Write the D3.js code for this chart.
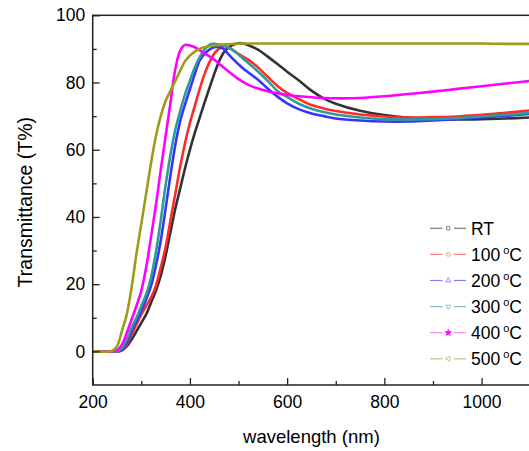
<!DOCTYPE html>
<html><head><meta charset="utf-8">
<script src="https://cdn.jsdelivr.net/npm/d3@7"></script>
<style>
body{margin:0;background:#fff}
svg{display:block}
text{font-family:"Liberation Sans",Arial,Helvetica,sans-serif;fill:#000}
</style>
</head><body>
<svg id="chart" width="529" height="451"></svg>
<script>
// ---------------- data ----------------
const wavelengths = [200,240,250,260,270,280,290,300,310,320,330,340,350,360,370,380,390,400,410,420,430,440,450,460,470,480,490,500,510,520,540,560,580,600,625,650,675,700,750,800,850,900,950,1000,1050,1100];
const seriesLabels = ["RT","100","200","300","400","500"];
const tRT   = [0,0,0,0.3,1.5,3.5,6,8.5,11,14.5,18,22.5,28.5,35.5,42.5,48.5,54.5,60,65,69.5,74,78.3,82.5,86.3,89,90.5,91.3,91.7,91.6,91.1,89.8,87.7,85.5,83.2,80.5,77.6,75.3,73.7,71.6,70.3,69.5,69.1,69,69.1,69.3,69.6];
const t100  = [0,0,0,0.3,2,5,8,11,13.5,16,19.5,25,31,39,47,55,62,68,73,78,82.5,86,88.6,90.1,90.8,90.4,89.5,88.5,87.6,86.8,84.5,81.7,79,76.9,75,73.3,72.3,71.5,70.5,69.9,69.6,69.7,69.9,70.4,71,71.7];
const t200  = [0,0,0,0.5,2.5,6,9,12,15.5,19.5,25.5,33,42.5,52.5,61.5,68.5,73.5,78,82.5,86.5,88.5,89.8,90.5,90.6,89.9,88.3,86.8,85.4,84.1,83,80.8,78.2,75.8,73.8,72,70.8,70,69.3,68.7,68.4,68.4,68.7,69.1,69.6,70.1,70.7];
const t300  = [0,0,0,1,3.5,7,10,13.5,17,22,29.5,39,49.5,58.5,66,71.5,76.5,80.5,84.5,87.5,89.8,91.2,91.5,91.3,91,90.3,89.5,88.3,87,85.8,83.3,80.5,77.5,75.7,73.6,72.2,71.2,70.5,69.6,69.1,69,69.1,69.4,69.9,70.4,71];
const t400  = [0,0,0.3,2,5.5,9.5,13.5,18,25,34,43.5,54,64,74,84,89.5,91.2,91,90.5,89.6,88.7,87.8,86.8,85.6,84.4,83.2,82.1,81,80.1,79.3,78.2,77.4,76.8,76.3,75.9,75.6,75.4,75.3,75.4,75.9,76.6,77.3,78.1,78.9,79.7,80.5];
const t500  = [0,0.2,1.5,6,11,19,29,38,47,56,64,70,74.5,77.5,80.5,83.5,86.3,88,89.2,90,90.5,90.8,91,91.2,91.3,91.4,91.5,91.6,91.6,91.6,91.6,91.6,91.6,91.6,91.6,91.6,91.6,91.6,91.6,91.6,91.6,91.6,91.6,91.6,91.5,91.5];
const xTickValues = [200,400,600,800,1000];
const xMinorTicks = [300,500,700,900];
const yTickValues = [0,20,40,60,80,100];
const yMinorTicks = [10,30,50,70,90];

// ---------------- styles ----------------
const seriesValues = [tRT,t100,t200,t300,t400,t500];
const lineColors   = ["#333333","#ff2b2b","#3535ff","#2e9a9a","#ff00ff","#9c9c18"];
const legendColors = ["#7a7a7a","#ff7f7f","#8080ff","#7fc0c0","#ff80ff","#bdbd80"];

const svg = d3.select("#chart");
const L = 92.7, R = 530.2, T = 15.3, B = 385;
const x = d3.scaleLinear().domain([200,1100]).range([L,R]);
const y = d3.scaleLinear().domain([-10,100]).range([B,T]);

svg.append("defs").append("clipPath").attr("id","plot")
  .append("rect").attr("x",L).attr("y",T).attr("width",R-L).attr("height",B-T);

// curves
const line = d3.line().x(d=>x(d[0])).y(d=>y(Math.max(d[1],0))).curve(d3.curveCatmullRom.alpha(0.5));
const gLines = svg.append("g").attr("clip-path","url(#plot)");
seriesValues.forEach((vals,i)=>{
  const pts = wavelengths.map((w,j)=>[w,vals[j]]);
  gLines.append("path").attr("d",line(pts))
    .attr("fill","none").attr("stroke",lineColors[i])
    .attr("stroke-width",2.6).attr("stroke-linejoin","round");
});

// axes
const axisColor = "#222";
function styleAxis(g){
  g.select(".domain").remove();
  g.selectAll(".tick line").attr("stroke",axisColor).attr("stroke-width",1.3);
  g.selectAll(".tick text").style("font-size","17.5px")
   .style("font-family","'Liberation Sans',Arial,sans-serif").attr("fill","#000");
}
svg.append("g").attr("transform",`translate(${L},0)`)
  .call(d3.axisLeft(y).tickValues(yTickValues).tickSizeInner(-7).tickSizeOuter(0).tickPadding(7.5).tickFormat(d3.format("d")))
  .call(styleAxis);
svg.append("g").attr("transform",`translate(${L},0)`)
  .call(d3.axisLeft(y).tickValues(yMinorTicks).tickSizeInner(-4).tickSizeOuter(0).tickFormat(""))
  .call(styleAxis);
svg.append("g").attr("transform",`translate(0,${B})`)
  .call(d3.axisBottom(x).tickValues(xTickValues).tickSizeInner(-7).tickSizeOuter(0).tickPadding(11).tickFormat(d3.format("d")))
  .call(styleAxis);
svg.append("g").attr("transform",`translate(0,${B})`)
  .call(d3.axisBottom(x).tickValues(xMinorTicks).tickSizeInner(-4).tickSizeOuter(0).tickFormat(""))
  .call(styleAxis);

// frame
svg.append("rect").attr("x",L).attr("y",T).attr("width",R-L).attr("height",B-T)
  .attr("fill","none").attr("stroke",axisColor).attr("stroke-width",1.5);

// axis titles
svg.append("text").attr("x",(L+R)/2).attr("y",443).attr("text-anchor","middle")
  .style("font-size","18.5px").text("wavelength (nm)");
svg.append("text").attr("transform",`translate(32,${(T+B)/2+2}) rotate(-90)`)
  .attr("text-anchor","middle").style("font-size","19.5px").text("Transmittance (T%)");

// legend
const symbols = [
  {type:d3.symbolSquare, rot:0, fill:false},
  {type:d3.symbolCircle, rot:0, fill:false},
  {type:d3.symbolTriangle, rot:0, fill:false},
  {type:d3.symbolTriangle, rot:180, fill:false},
  {type:d3.symbolStar, rot:0, fill:true},
  {type:d3.symbolTriangle, rot:-90, fill:false}
];
const lg = svg.append("g");
seriesLabels.forEach((lab,i)=>{
  const base = 234.6 + 26.1*i;
  const cy = base - 6.3;
  lg.append("line").attr("x1",430).attr("x2",442.5).attr("y1",cy).attr("y2",cy)
    .attr("stroke",legendColors[i]).attr("stroke-width",1.2);
  lg.append("line").attr("x1",454).attr("x2",466).attr("y1",cy).attr("y2",cy)
    .attr("stroke",legendColors[i]).attr("stroke-width",1.2);
  const s = symbols[i];
  lg.append("path").attr("d",d3.symbol().type(s.type).size(s.fill?12:11)())
    .attr("transform",`translate(448.3,${cy}) rotate(${s.rot})`)
    .attr("fill",s.fill?lineColors[i]:"none")
    .attr("stroke",s.fill?lineColors[i]:legendColors[i]).attr("stroke-width",0.9);
  const t = lg.append("text").attr("x",471).attr("y",base).style("font-size","17.5px");
  if(i===0){ t.text(lab); }
  else{
    t.append("tspan").text(lab);
    t.append("tspan").attr("dx",3).attr("dy",-7).style("font-size","11px").text("o");
    t.append("tspan").attr("dy",7).text("C");
  }
});
</script>
</body></html>
